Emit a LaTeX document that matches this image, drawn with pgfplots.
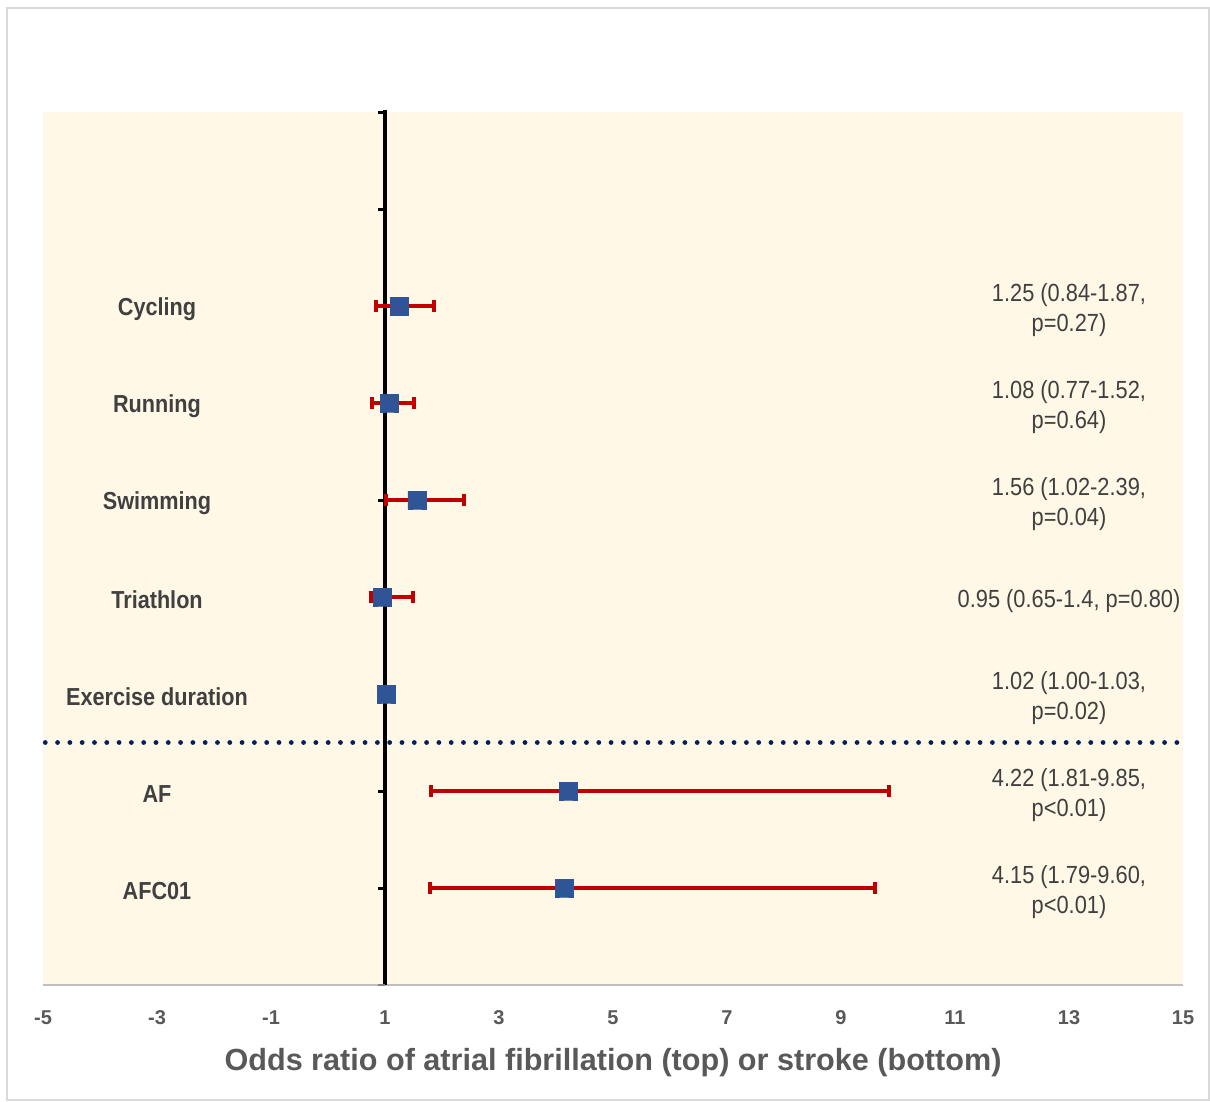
\documentclass[border=0pt]{standalone}
\usepackage{pgfplots}
\pgfplotsset{compat=1.18}
\usepackage{pgfplotstable}
\usepackage{fontspec}
\setmainfont{Liberation Sans}[FakeStretch=0.88]
\newfontfamily\widefont{Liberation Sans}
\definecolor{cream}{RGB}{255,248,231}
\definecolor{mkblue}{RGB}{47,85,151}
\definecolor{ebred}{RGB}{192,0,0}
\definecolor{navy}{RGB}{0,32,96}
\definecolor{txt}{RGB}{64,64,64}
\definecolor{ticktxt}{RGB}{89,89,89}
\definecolor{framecol}{RGB}{217,217,217}
\pgfdeclareplotmark{rsq}{%
  \pgfsetcornersarced{\pgfpoint{2.5pt}{2.5pt}}%
  \pgfpathmoveto{\pgfqpoint{0pt}{-\pgfplotmarksize}}%
  \pgfpathlineto{\pgfqpoint{\pgfplotmarksize}{-\pgfplotmarksize}}%
  \pgfpathlineto{\pgfqpoint{\pgfplotmarksize}{\pgfplotmarksize}}%
  \pgfpathlineto{\pgfqpoint{-\pgfplotmarksize}{\pgfplotmarksize}}%
  \pgfpathlineto{\pgfqpoint{-\pgfplotmarksize}{-\pgfplotmarksize}}%
  \pgfpathclose
  \pgfusepathqfillstroke}
\pgfplotstableread{
x y ep em
1.25 7 0.61 0.41
1.08 6 0.42 0.31
1.56 5 0.83 0.54
0.95 4 0.54 0.20
1.02 3 0.01 0.02
4.22 2 5.63 2.41
4.15 1 5.45 2.36
}\data
\begin{document}
\begin{tikzpicture}
\useasboundingbox (-21.5pt,-58.5pt) rectangle (583.5pt,492.5pt);
\draw[framecol, line width=0.7pt] (-18pt,-57.5pt) rectangle (583pt,488.5pt);
\begin{axis}[
  at={(0,0)}, anchor=south west,
  scale only axis, width=570pt, height=436.5pt,
  xmin=-5, xmax=15, ymin=0, ymax=9,
  axis x line*=bottom, axis y line=none,
  x axis line style={-, draw=black!25, line width=1pt},
  axis background/.style={fill=cream},
  xtick={-5,-3,-1,1,3,5,7,9,11,13,15},
  xticklabels={-5,-3,-1,1,3,5,7,9,11,13,15},
  major tick length=0pt, tick style={draw=none},
  xticklabel style={font=\widefont\bfseries\fontsize{10}{12}\selectfont, text=ticktxt, anchor=center, yshift=-16.5pt},
  ytick=\empty,
  clip=false,
]
\draw[navy, line width=2.4pt, line cap=round, dash pattern=on 0pt off 6.15pt] (axis cs:-4.96,2.5) -- (axis cs:15,2.5);
\draw[black, line width=2pt] (axis cs:1,0) -- (axis cs:1,9) -- ++(0pt,1pt);
\pgfplotsinvokeforeach{1,...,9}{\draw[black, line width=1.5pt] (axis cs:1,#1) -- ++(-3.5pt,0pt);}
\draw[black!50, line width=1.2pt] (axis cs:1,0) -- ++(-3.5pt,0pt);
\addplot[ebred, line width=2pt, only marks, mark=none, forget plot,
  error bars/.cd, x dir=both, x explicit,
  error bar style={draw=ebred, line width=2pt},
  error mark options={draw=ebred, rotate=90, mark size=3pt, line width=2pt}]
  table[x=x, y=y, x error plus=ep, x error minus=em]{\data};
\addplot[only marks, mark=rsq, mark size=4.5pt,
  mark options={fill=mkblue, draw=mkblue, line width=0.4pt}]
  table[x=x, y=y]{\data};
\tikzset{cat/.style={font=\bfseries\fontsize{12.3}{14}\selectfont, text=txt, yshift=-1.5pt},
  ann/.style={align=center, font=\fontsize{12.4}{14.75}\selectfont, text=txt, yshift=-2pt}}
\node[cat] at (axis cs:-3,7) {Cycling};
\node[cat] at (axis cs:-3,6) {Running};
\node[cat] at (axis cs:-3,5) {Swimming};
\node[cat] at (axis cs:-3,4) {Triathlon};
\node[cat] at (axis cs:-3,3) {Exercise duration};
\node[cat] at (axis cs:-3,2) {AF};
\node[cat] at (axis cs:-3,1) {AFC01};
\node[ann] at (axis cs:13,7) {1.25 (0.84-1.87,\\p=0.27)};
\node[ann] at (axis cs:13,6) {1.08 (0.77-1.52,\\p=0.64)};
\node[ann] at (axis cs:13,5) {1.56 (1.02-2.39,\\p=0.04)};
\node[ann] at (axis cs:13,4) {0.95 (0.65-1.4, p=0.80)};
\node[ann] at (axis cs:13,3) {1.02 (1.00-1.03,\\p=0.02)};
\node[ann] at (axis cs:13,2) {4.22 (1.81-9.85,\\p\textless0.01)};
\node[ann] at (axis cs:13,1) {4.15 (1.79-9.60,\\p\textless0.01)};
\node[font=\widefont\bfseries\fontsize{15.3}{17}\selectfont, text=ticktxt, yshift=-39pt] at (rel axis cs:0.5,0) {Odds ratio of atrial fibrillation (top) or stroke (bottom)};
\end{axis}
\end{tikzpicture}
\end{document}
